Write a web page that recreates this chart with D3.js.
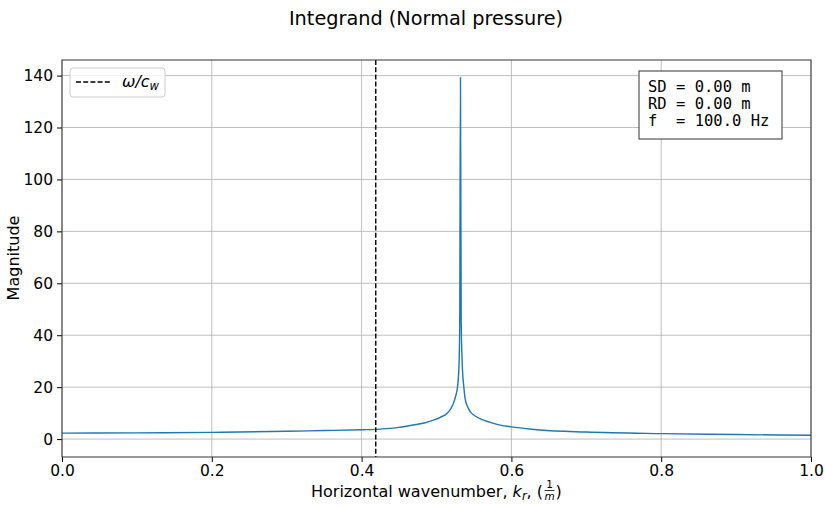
<!DOCTYPE html>
<html>
<head>
<meta charset="utf-8">
<script src="https://cdn.jsdelivr.net/npm/d3@7"></script>
<style>
  body { margin: 0; background: #fff; }
  svg { font-family: "DejaVu Sans", sans-serif; }
</style>
</head>
<body>
<div id="svg-container"></div>
<script>
// data
const kr = [0.0, 0.1, 0.2, 0.3, 0.35, 0.4, 0.425, 0.45, 0.469, 0.485, 0.496, 0.505, 0.514, 0.519, 0.5225, 0.5255, 0.528, 0.53, 0.531, 0.532, 0.533, 0.5345, 0.5365, 0.538, 0.541, 0.545, 0.551, 0.56, 0.571, 0.585, 0.6, 0.638, 0.7, 0.8, 0.9, 1.0];
const magnitude = [2.3, 2.4, 2.6, 3.0, 3.3, 3.6, 3.85, 4.5, 5.4, 6.3, 7.3, 8.4, 9.9, 11.6, 13.7, 16.5, 20, 28, 45, 139.3, 45, 28, 20, 16.0, 12.8, 10.6, 9.0, 7.6, 6.5, 5.4, 4.7, 3.5, 2.7, 2.1, 1.75, 1.45];
const xTicks = [0.0, 0.2, 0.4, 0.6, 0.8, 1.0];
const yTicks = [0, 20, 40, 60, 80, 100, 120, 140];
const omegaOverCw = 0.4189;
const infoLines = ["SD = 0.00 m", "RD = 0.00 m", "f  = 100.0 Hz"];

const width = 825, height = 506;
const margin = { top: 60, right: 14, bottom: 49, left: 62 };

const svg = d3.select("#svg-container").append("svg")
  .attr("width", width).attr("height", height);

const xScale = d3.scaleLinear().domain([0, 1]).range([margin.left, width - margin.right]);
const yScale = d3.scaleLinear().domain([-6.9, 146]).range([height - margin.bottom, margin.top]);

const gridColor = "#b0b0b0";

// grid
svg.append("g").selectAll("line").data(xTicks).join("line")
  .attr("x1", d => xScale(d)).attr("x2", d => xScale(d))
  .attr("y1", margin.top).attr("y2", height - margin.bottom)
  .attr("stroke", gridColor).attr("stroke-width", 1).attr("opacity", 0.8);
svg.append("g").selectAll("line").data(yTicks).join("line")
  .attr("x1", margin.left).attr("x2", width - margin.right)
  .attr("y1", d => yScale(d)).attr("y2", d => yScale(d))
  .attr("stroke", gridColor).attr("stroke-width", 1).attr("opacity", 0.8);

// axes
const xAxis = d3.axisBottom(xScale).tickValues(xTicks).tickFormat(d3.format(".1f"))
  .tickSize(5).tickPadding(3).tickSizeOuter(0);
const yAxis = d3.axisLeft(yScale).tickValues(yTicks).tickFormat(d3.format("d"))
  .tickSize(5).tickPadding(4).tickSizeOuter(0);

const gx = svg.append("g").attr("transform", `translate(0, ${height - margin.bottom})`).call(xAxis);
const gy = svg.append("g").attr("transform", `translate(${margin.left}, 0)`).call(yAxis);
[gx, gy].forEach(g => {
  g.select(".domain").remove();
  g.selectAll("line").attr("stroke", "#000").attr("stroke-width", 1);
  g.selectAll("text").attr("font-family", "DejaVu Sans").attr("font-size", 15.5).attr("fill", "#000");
});

// curve
const line = d3.line().curve(d3.curveMonotoneX).x((d, i) => xScale(kr[i])).y(d => yScale(d));
svg.append("path").datum(magnitude)
  .attr("d", line).attr("fill", "none")
  .attr("stroke", "#1f77b4").attr("stroke-width", 1.4);

// omega / c_w
svg.append("line")
  .attr("x1", xScale(omegaOverCw)).attr("x2", xScale(omegaOverCw))
  .attr("y1", margin.top).attr("y2", height - margin.bottom)
  .attr("stroke", "#000").attr("stroke-width", 1.4).attr("stroke-dasharray", "5,2.2");

// frame
svg.append("rect")
  .attr("x", margin.left).attr("y", margin.top)
  .attr("width", width - margin.left - margin.right)
  .attr("height", height - margin.top - margin.bottom)
  .attr("fill", "none").attr("stroke", "#333").attr("stroke-width", 1);

// title
svg.append("text").attr("x", 426).attr("y", 25).attr("text-anchor", "middle")
  .attr("font-size", 19.3).text("Integrand (Normal pressure)");

// axis labels (x label built left to right, fraction after the text)
const xLeft = 311, xBase = 497;
const xl = svg.append("text").attr("x", xLeft).attr("y", xBase).attr("font-size", 16);
xl.append("tspan").text("Horizontal wavenumber, ");
xl.append("tspan").attr("font-style", "italic").text("k");
xl.append("tspan").attr("font-style", "italic").attr("font-size", 11.5).attr("dy", 3).text("r");
xl.append("tspan").attr("dy", -3).text(", (");
const fracX = xLeft + xl.node().getComputedTextLength() + 1;
svg.append("text").attr("x", fracX + 5.5).attr("y", xBase - 9).attr("text-anchor", "middle")
  .attr("font-size", 10.5).text("1");
svg.append("line").attr("x1", fracX + 0.5).attr("x2", fracX + 10.5)
  .attr("y1", xBase - 6.5).attr("y2", xBase - 6.5)
  .attr("stroke", "#000").attr("stroke-width", 0.8);
svg.append("text").attr("x", fracX + 5.5).attr("y", xBase + 2.5).attr("text-anchor", "middle")
  .attr("font-size", 10.5).attr("font-style", "italic").text("m");
svg.append("text").attr("x", fracX + 11.5).attr("y", xBase).attr("font-size", 16).text(")");

svg.append("text").attr("transform", "translate(19, 258) rotate(-90)")
  .attr("text-anchor", "middle").attr("font-size", 16).text("Magnitude");

// legend
svg.append("rect").attr("x", 70).attr("y", 68).attr("width", 95).attr("height", 29)
  .attr("rx", 3).attr("fill", "#fff").attr("fill-opacity", 0.8)
  .attr("stroke", "#ccc").attr("stroke-width", 1);
svg.append("line").attr("x1", 76).attr("x2", 110).attr("y1", 82).attr("y2", 82)
  .attr("stroke", "#000").attr("stroke-width", 1.4).attr("stroke-dasharray", "5,2.2");
const lt = svg.append("text").attr("x", 122).attr("y", 87).attr("font-size", 16)
  .attr("font-style", "italic");
lt.append("tspan").text("ω/c");
lt.append("tspan").attr("font-size", 11.5).attr("dy", 3).text("w");

// info box
svg.append("rect").attr("x", 639).attr("y", 71).attr("width", 143).attr("height", 68)
  .attr("fill", "#fff").attr("stroke", "#333").attr("stroke-width", 1);
svg.append("g").selectAll("text").data(infoLines).join("text")
  .attr("x", 648).attr("y", (d, i) => 92 + i * 17)
  .attr("font-family", "DejaVu Sans Mono").attr("font-size", 15.5)
  .attr("xml:space", "preserve").style("white-space", "pre")
  .text(d => d);
</script>
</body>
</html>
